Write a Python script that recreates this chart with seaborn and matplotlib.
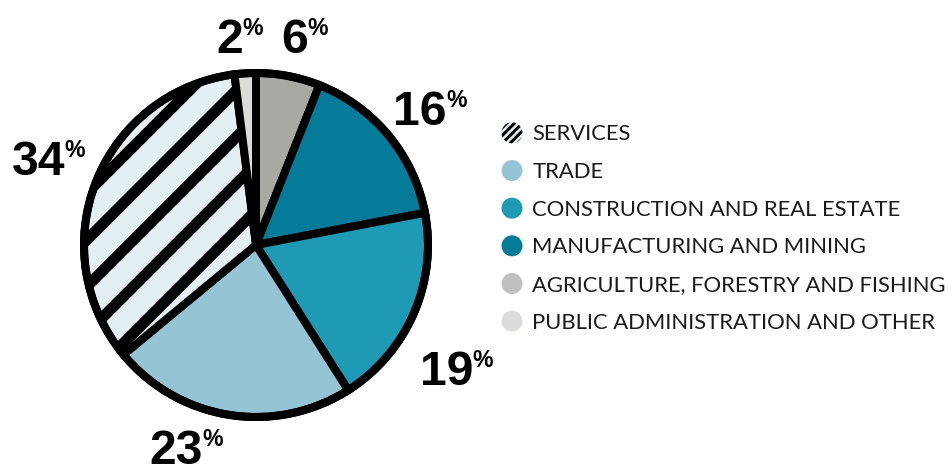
"""
Pie chart: share by sector
"""

import matplotlib
matplotlib.use("Agg")
import matplotlib.pyplot as plt
import seaborn as sns
from matplotlib.patches import Patch, Circle
from matplotlib.legend_handler import HandlerPatch

# Data (clockwise from 12 o'clock)
sectors = ['AGRICULTURE, FORESTRY AND FISHING', 'MANUFACTURING AND MINING',
           'CONSTRUCTION AND REAL ESTATE', 'TRADE', 'SERVICES',
           'PUBLIC ADMINISTRATION AND OTHER']
shares = [6, 16, 19, 23, 34, 2]
colors = ['#a9a8a2', '#067b99', '#1f9ab5', '#95c5d4', '#e4eff4', '#dcdcd8']
hatches = ['', '', '', '', '//', '']
legend_order = ['SERVICES', 'TRADE', 'CONSTRUCTION AND REAL ESTATE',
                'MANUFACTURING AND MINING', 'AGRICULTURE, FORESTRY AND FISHING',
                'PUBLIC ADMINISTRATION AND OTHER']
legend_colors = {'AGRICULTURE, FORESTRY AND FISHING': '#c0c0bc'}

# label anchors (right edge of the number, baseline), in pixels from top-left
label_pos = [(308, 53), (447, 125), (473, 385), (203, 464), (65, 175), (243, 53)]

DPI = 280
PX = 72 / DPI  # points per pixel
W, H = 952, 475

sns.set_theme(style="white")
plt.rcParams['font.family'] = ['Liberation Sans', 'DejaVu Sans']
plt.rcParams['hatch.linewidth'] = 11 * PX
plt.rcParams['hatch.color'] = 'black'

fig = plt.figure(figsize=(W / DPI, H / DPI), dpi=DPI)
ax = fig.add_axes([0, 0, 1, 1])

cx, cy, r = 256, H - 245, 172
wedges, _ = ax.pie(shares, colors=colors, startangle=90, counterclock=False,
                   center=(cx, cy), radius=r, frame=True,
                   wedgeprops=dict(edgecolor='black', linewidth=8 * PX))
ax.set_xlim(0, W)
ax.set_ylim(0, H)
ax.axis('off')
for w, h in zip(wedges, hatches):
    if h:
        w.set_hatch(h)

# outer ring
ax.add_patch(Circle((cx, cy), r, fill=False, edgecolor='black', linewidth=8 * PX, zorder=5))

# percent labels
for s, (x, y) in zip(shares, label_pos):
    ax.text(x, H - y, str(s), fontsize=48 * PX, fontweight='bold',
            ha='right', va='baseline', color='black')
    ax.text(x - 1, H - y + 18, '%', fontsize=23 * PX, fontweight='bold',
            ha='left', va='baseline', color='black')

dense_hatch = hasattr(Patch, 'set_hatch_linewidth')


class HandlerCircle(HandlerPatch):
    def create_artists(self, legend, orig_handle, xdescent, ydescent,
                       width, height, fontsize, trans):
        c = Circle((width / 2 - xdescent, height / 2 - ydescent), radius=10.5 * PX)
        self.update_prop(c, orig_handle, legend)
        if orig_handle.get_hatch() and dense_hatch:
            c.set_hatch('/' * 12)
            c.set_hatch_linewidth(3 * PX)
        c.set_transform(trans)
        return [c]


handles = []
for name in legend_order:
    i = sectors.index(name)
    col = legend_colors.get(name, colors[i])
    handles.append(Patch(facecolor=col, edgecolor='black' if hatches[i] else col,
                         linewidth=0, hatch=hatches[i]))

fs = 22
leg = ax.legend(handles, legend_order, handler_map={Patch: HandlerCircle()},
                loc='upper left', bbox_to_anchor=(501, H - 123),
                bbox_transform=ax.transData, frameon=False,
                prop=dict(family='Lato', weight='normal', size=fs * PX),
                handlelength=1.0, handleheight=1.0, handletextpad=0.42,
                labelspacing=0.74, borderpad=0, borderaxespad=0)
for t in leg.get_texts():
    t.set_color('#1a1a1a')

fig.savefig('out.png', dpi=DPI)
